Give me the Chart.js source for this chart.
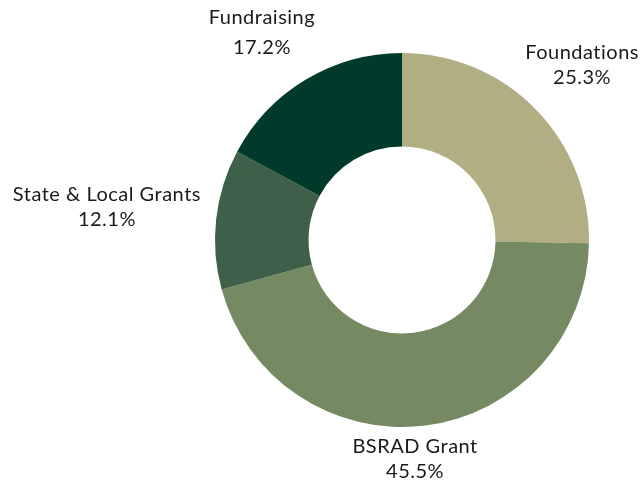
<!DOCTYPE html>
<html>
<head>
<meta charset="utf-8">
<script src="https://cdn.jsdelivr.net/npm/chart.js@4"></script>
<style>
  html, body { margin:0; padding:0; background:#fff; }
  #wrap { width:641px; height:482px; }
</style>
</head>
<body>
<div id="wrap"><canvas id="c" width="641" height="482"></canvas></div>
<script>
// data
const categories = ["Foundations", "BSRAD Grant", "State & Local Grants", "Fundraising"];
const shares = [25.3, 45.5, 12.1, 17.2];
const colors = ["#b0ae82", "#758a62", "#3e5f48", "#003a2b"];
// label anchor relative to doughnut centre, in units of the outer radius
const labelOffsets = [[0.963, -0.936], [0.07, 1.17], [-1.578, -0.176], [-0.749, -1.112]];
const lineGaps = [25, 25, 25, 30];

const outsideLabels = {
  id: 'outsideLabels',
  afterDraw(chart){
    const ctx = chart.ctx;
    const arc = chart.getDatasetMeta(0).data[0];
    const cx = arc.x, cy = arc.y, r = arc.outerRadius;
    ctx.save();
    ctx.fillStyle = '#1a1a1a';
    ctx.font = '20px Lato';
    ctx.letterSpacing = '0.5px';
    ctx.textAlign = 'center';
    ctx.textBaseline = 'middle';
    categories.forEach((name, i) => {
      const x = cx + labelOffsets[i][0]*r;
      const y = cy + labelOffsets[i][1]*r;
      const g = lineGaps[i];
      ctx.fillText(name, x, y - g/2);
      ctx.fillText(shares[i].toFixed(1) + '%', x, y + g/2);
    });
    ctx.restore();
  }
};

new Chart(document.getElementById('c'), {
  type: 'doughnut',
  data: { labels: categories, datasets: [{ data: shares, backgroundColor: colors, borderWidth: 0 }] },
  options: {
    responsive: false,
    animation: false,
    cutout: '50%',
    layout: { padding: { left: 215, right: 52, top: 53, bottom: 55 } },
    plugins: { legend: { display: false }, tooltip: { enabled: false } }
  },
  plugins: [outsideLabels]
});
</script>
</body>
</html>
